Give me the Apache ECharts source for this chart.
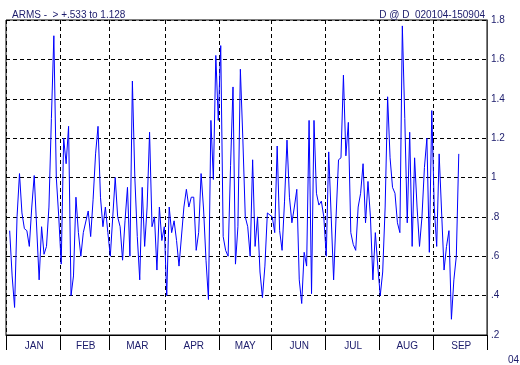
<!DOCTYPE html>
<html><head><meta charset="utf-8">
<script src="https://cdn.jsdelivr.net/npm/echarts@6/dist/echarts.min.js"></script>
<style>html,body{margin:0;padding:0;background:#fff}#c{width:520px;height:365px}</style>
</head><body><div id="c"></div>
<script>
// Month names and weekdays per month (Jan – Sep 2004); market holidays are null in the data
const months = ['JAN','FEB','MAR','APR','MAY','JUN','JUL','AUG','SEP'];
const weekdays = [22,20,23,22,21,22,22,22,22];
// Daily ARMS values (one entry per weekday)
const jan = [null,0.73,0.5,0.34,0.8,1.02,0.82,0.74,0.73,0.65,0.85,1.01,null,0.48,0.75,0.61,0.65,0.85,1.3,1.72,1.0,0.8];
const feb = [0.56,1.2,1.07,1.26,0.4,0.5,0.9,0.72,0.6,0.72,null,0.83,0.7,0.89,1.12,1.26,0.9,0.75,0.85,0.72];
const mar = [0.6,0.8,1.0,0.8,0.75,0.58,0.78,0.95,0.6,1.49,1.0,0.7,0.48,0.95,0.65,0.85,1.23,0.75,0.8,0.53,0.85,0.68,0.75];
const apr = [0.4,0.85,0.72,0.78,0.68,0.55,null,0.85,0.94,0.85,0.9,0.9,0.63,0.72,1.02,0.84,0.58,0.38,1.29,0.99,1.62,1.29];
const may = [1.67,0.7,0.63,0.6,1.06,1.46,0.56,0.75,1.55,1.2,0.8,0.75,0.6,1.09,0.65,0.8,0.52,0.39,0.55,0.82,null];
const jun = [0.8,0.72,1.16,0.73,0.63,0.88,1.19,0.9,0.77,0.85,0.94,0.48,0.36,0.62,0.55,1.29,0.41,1.29,0.92,0.86,0.88,0.8];
const jul = [0.6,1.13,null,0.48,0.8,1.09,1.1,1.52,1.11,1.28,0.72,0.66,0.63,0.85,0.92,1.07,0.77,0.98,0.8,0.48,0.72,0.55];
const aug = [0.4,0.52,0.85,1.41,1.1,0.95,0.92,0.77,0.72,1.77,1.3,0.77,1.23,0.65,1.1,0.85,0.65,0.8,1.05,1.2,0.62,1.34];
const sep = [0.85,0.65,1.12,null,0.53,0.65,0.73,0.28,0.48,0.6,1.12];
const yTicks = [0.2,0.4,0.6,0.8,1.0,1.2,1.4,1.6,1.8];

const values = [].concat(jan,feb,mar,apr,may,jun,jul,aug,sep);
const categories = [];
const monthStart = new Set();
const monthMid = {};
weekdays.forEach((n, m) => {
  monthStart.add(categories.length);
  monthMid[categories.length + Math.floor(n / 2)] = months[m];
  for (let d = 0; d < n; d++) categories.push(months[m] + '-' + (d + 1));
});

const navy = '#1b1b6b';
const font = 'Liberation Sans, Arial, sans-serif';
const chart = echarts.init(document.getElementById('c'), null, {renderer: 'canvas'});
chart.setOption({
  animation: false,
  backgroundColor: '#fff',
  title: [
    {text: 'ARMS -  > +.533 to 1.128', left: 7, top: 5,
     textStyle: {fontSize: 10, fontWeight: 'normal', color: navy, fontFamily: font}},
    {text: 'D @ D  020104-150904', right: 30, top: 5,
     textStyle: {fontSize: 10, fontWeight: 'normal', color: navy, fontFamily: font}},
    {text: '04', left: 503, top: 350,
     textStyle: {fontSize: 10, fontWeight: 'normal', color: navy, fontFamily: font}}
  ],
  grid: {left: 6, right: 33, top: 20, bottom: 30, show: true, borderColor: '#000', borderWidth: 1},
  xAxis: {
    type: 'category', data: categories, boundaryGap: true,
    axisLine: {lineStyle: {color: '#000', width: 1}},
    axisTick: {show: true, length: 15, interval: (i) => monthStart.has(i), lineStyle: {color: '#000'}},
    splitLine: {show: true, interval: (i) => monthStart.has(i), lineStyle: {color: '#000', type: [4, 3], width: 1}},
    axisLabel: {interval: (i) => monthMid[i] !== undefined, formatter: (v, i) => monthMid[i] || '',
                color: navy, fontSize: 10, fontFamily: font, margin: 6}
  },
  yAxis: {
    type: 'value', position: 'right', min: 0.2, max: 1.8, interval: 0.2,
    axisLine: {show: true, lineStyle: {color: '#444'}},
    axisTick: {show: false},
    splitLine: {show: true, lineStyle: {color: '#000', type: [4, 3], width: 1}},
    axisLabel: {color: navy, fontSize: 10, fontFamily: font, margin: 4,
      padding: [0, 0, 7, 0],
      formatter: (v) => {
        const s = String(Math.round(v * 10) / 10);
        return s.replace(/^0\./, '.');
      }}
  },
  series: [{
    type: 'line', data: values, showSymbol: false, symbol: 'none', connectNulls: true,
    lineStyle: {color: '#0000ff', width: 1}, itemStyle: {color: '#0000ff'}
  }]
});
</script></body></html>
